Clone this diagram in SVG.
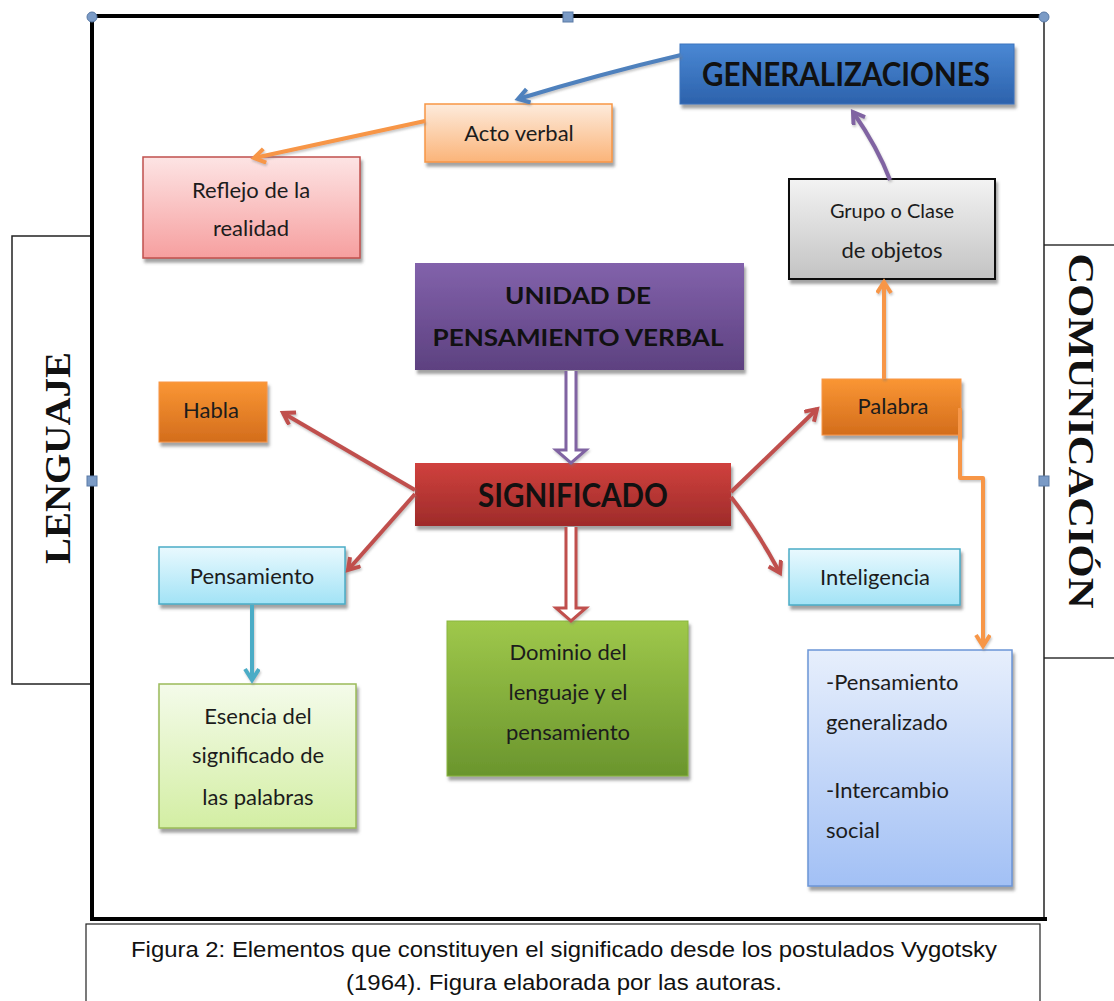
<svg xmlns="http://www.w3.org/2000/svg" width="1114" height="1001" viewBox="0 0 1114 1001">
<style>
.lbl{font-family:Lato,"Liberation Sans",sans-serif;font-size:22px;fill:#1c1c1c;text-anchor:middle}
.bold{font-weight:bold}
.side{font-family:"Liberation Serif",serif;font-weight:bold;font-size:36px;fill:#111;text-anchor:middle}
.cap{font-family:"Liberation Sans",Arial,sans-serif;font-size:22px;fill:#111;text-anchor:middle}
.conn{fill:none;stroke-width:4;stroke-linejoin:round}
.handle{fill:#7b9bc6;stroke:#5a7aa6;stroke-width:1}
</style>
<defs>
<filter id="sh" x="-10%" y="-10%" width="130%" height="140%">
<feDropShadow dx="2" dy="4" stdDeviation="1.5" flood-color="#555" flood-opacity="0.55"/>
</filter>
<filter id="lsh" x="-10%" y="-10%" width="130%" height="130%">
<feDropShadow dx="1" dy="2" stdDeviation="1" flood-color="#777" flood-opacity="0.4"/>
</filter>
<linearGradient id="gBlue" x1="0" y1="0" x2="0" y2="1"><stop offset="0" stop-color="#4a88d4"/><stop offset="1" stop-color="#2c62ac"/></linearGradient>
<linearGradient id="gPurple" x1="0" y1="0" x2="0" y2="1"><stop offset="0" stop-color="#8262ab"/><stop offset="1" stop-color="#5d4180"/></linearGradient>
<linearGradient id="gRed" x1="0" y1="0" x2="0" y2="1"><stop offset="0" stop-color="#d0413d"/><stop offset="1" stop-color="#9e2b2a"/></linearGradient>
<linearGradient id="gOrange" x1="0" y1="0" x2="0" y2="1"><stop offset="0" stop-color="#fa9634"/><stop offset="1" stop-color="#d36d1c"/></linearGradient>
<linearGradient id="gGreen" x1="0" y1="0" x2="0" y2="1"><stop offset="0" stop-color="#9fc84b"/><stop offset="1" stop-color="#6a952d"/></linearGradient>
<linearGradient id="gPeach" x1="0" y1="0" x2="0" y2="1"><stop offset="0" stop-color="#fdebdc"/><stop offset="1" stop-color="#fbb479"/></linearGradient>
<linearGradient id="gPink" x1="0" y1="0" x2="0" y2="1"><stop offset="0" stop-color="#fde4e4"/><stop offset="1" stop-color="#f69f9f"/></linearGradient>
<linearGradient id="gGray" x1="0" y1="0" x2="0" y2="1"><stop offset="0" stop-color="#f3f3f3"/><stop offset="1" stop-color="#c3c3c3"/></linearGradient>
<linearGradient id="gCyan" x1="0" y1="0" x2="0" y2="1"><stop offset="0" stop-color="#e9f9fe"/><stop offset="1" stop-color="#a2e3f6"/></linearGradient>
<linearGradient id="gLime" x1="0" y1="0" x2="0" y2="1"><stop offset="0" stop-color="#f4fbea"/><stop offset="1" stop-color="#d3eea3"/></linearGradient>
<linearGradient id="gSky" x1="0" y1="0" x2="0" y2="1"><stop offset="0" stop-color="#e7effc"/><stop offset="1" stop-color="#a2c0f5"/></linearGradient>
<marker id="aBlue" markerUnits="userSpaceOnUse" markerWidth="20" markerHeight="20" refX="13" refY="8" orient="auto"><path d="M2,1 L13,8 L2,15" fill="none" stroke="#4f81bd" stroke-width="4"/></marker>
<marker id="aOrange" markerUnits="userSpaceOnUse" markerWidth="20" markerHeight="20" refX="13" refY="8" orient="auto"><path d="M2,1 L13,8 L2,15" fill="none" stroke="#f79646" stroke-width="4"/></marker>
<marker id="aPurple" markerUnits="userSpaceOnUse" markerWidth="20" markerHeight="20" refX="13" refY="8" orient="auto"><path d="M2,1 L13,8 L2,15" fill="none" stroke="#8064a2" stroke-width="4"/></marker>
<marker id="aRed" markerUnits="userSpaceOnUse" markerWidth="20" markerHeight="20" refX="13" refY="8" orient="auto"><path d="M2,1 L13,8 L2,15" fill="none" stroke="#c0504d" stroke-width="4"/></marker>
<marker id="aCyan" markerUnits="userSpaceOnUse" markerWidth="20" markerHeight="20" refX="13" refY="8" orient="auto"><path d="M2,1 L13,8 L2,15" fill="none" stroke="#4bacc6" stroke-width="4"/></marker>
</defs>

<rect width="1114" height="1001" fill="#fff"/>

<g id="frame">
<rect x="12" y="236" width="80" height="448" fill="#fff" stroke="#222" stroke-width="1.5"/>
<line x1="1044" y1="245" x2="1114" y2="245" stroke="#333" stroke-width="1.5"/>
<line x1="1044" y1="658" x2="1114" y2="658" stroke="#333" stroke-width="1.5"/>
<line x1="1044" y1="16" x2="1044" y2="921" stroke="#222" stroke-width="1.5"/>
<line x1="92" y1="16" x2="1044" y2="16" stroke="#000" stroke-width="4"/>
<line x1="92" y1="16" x2="92" y2="920" stroke="#000" stroke-width="4"/>
<line x1="90" y1="919" x2="1047" y2="919" stroke="#000" stroke-width="4"/>
<circle class="handle" cx="92" cy="17" r="5"/>
<circle class="handle" cx="1044" cy="17" r="5"/>
<rect class="handle" x="563" y="12" width="10" height="10"/>
<rect class="handle" x="87" y="476" width="10" height="10"/>
<rect class="handle" x="1039" y="476" width="10" height="10"/>
</g>

<g id="lenguaje">
<text class="side" transform="translate(70,458) rotate(-90)" textLength="212" lengthAdjust="spacingAndGlyphs">LENGUAJE</text>
</g>
<g id="comunicacion">
<text class="side" transform="translate(1069,431) rotate(90)" textLength="355" lengthAdjust="spacingAndGlyphs">COMUNICACIÓN</text>
</g>

<g id="generalizaciones">
<rect x="680" y="44" width="334" height="60" fill="url(#gBlue)" stroke="#3d74bd" stroke-width="1" filter="url(#sh)"/>
<text class="lbl bold" x="846" y="86" style="font-size:33px;fill:#111" textLength="288" lengthAdjust="spacingAndGlyphs">GENERALIZACIONES</text>
</g>

<g id="acto-verbal">
<rect x="425" y="104" width="187" height="58" fill="url(#gPeach)" stroke="#f79646" stroke-width="1.5" filter="url(#sh)"/>
<text class="lbl" x="519" y="141">Acto verbal</text>
</g>

<g id="reflejo">
<rect x="143" y="157" width="217" height="101" fill="url(#gPink)" stroke="#c0504d" stroke-width="1.5" filter="url(#sh)"/>
<text class="lbl" x="251" y="198">Reflejo de la</text>
<text class="lbl" x="251" y="236">realidad</text>
</g>

<g id="grupo">
<rect x="789" y="179" width="206" height="100" fill="url(#gGray)" stroke="#111" stroke-width="2" filter="url(#sh)"/>
<text class="lbl" x="892" y="218" style="font-size:20px">Grupo o Clase</text>
<text class="lbl" x="892" y="258">de objetos</text>
</g>

<g id="unidad">
<rect x="415" y="263" width="329" height="107" fill="url(#gPurple)" filter="url(#sh)"/>
<text class="lbl bold" x="578" y="304" style="font-size:23px;fill:#111" textLength="146" lengthAdjust="spacingAndGlyphs">UNIDAD DE</text>
<text class="lbl bold" x="578" y="346" style="font-size:23px;fill:#111" textLength="291" lengthAdjust="spacingAndGlyphs">PENSAMIENTO VERBAL</text>
</g>

<g id="habla">
<rect x="159" y="382" width="108" height="60" fill="url(#gOrange)" stroke="#f79646" stroke-width="1" filter="url(#sh)"/>
<text class="lbl" x="211" y="418">Habla</text>
</g>

<g id="palabra">
<rect x="822" y="379" width="139" height="56" fill="url(#gOrange)" stroke="#f79646" stroke-width="1" filter="url(#sh)"/>
<text class="lbl" x="893" y="414">Palabra</text>
</g>

<g id="significado">
<rect x="415" y="463" width="316" height="63" fill="url(#gRed)" filter="url(#sh)"/>
<text class="lbl bold" x="573" y="507" style="font-size:33px;fill:#111" textLength="190" lengthAdjust="spacingAndGlyphs">SIGNIFICADO</text>
</g>

<g id="pensamiento">
<rect x="159" y="547" width="186" height="57" fill="url(#gCyan)" stroke="#4bacc6" stroke-width="1.5" filter="url(#sh)"/>
<text class="lbl" x="252" y="584">Pensamiento</text>
</g>

<g id="inteligencia">
<rect x="789" y="549" width="171" height="56" fill="url(#gCyan)" stroke="#4bacc6" stroke-width="1.5" filter="url(#sh)"/>
<text class="lbl" x="875" y="585">Inteligencia</text>
</g>

<g id="dominio">
<rect x="447" y="621" width="241" height="155" fill="url(#gGreen)" stroke="#8ab53f" stroke-width="1" filter="url(#sh)"/>
<text class="lbl" x="568" y="660">Dominio del</text>
<text class="lbl" x="568" y="700">lenguaje y el</text>
<text class="lbl" x="568" y="740">pensamiento</text>
</g>

<g id="esencia">
<rect x="159" y="684" width="197" height="144" fill="url(#gLime)" stroke="#9bbb59" stroke-width="1.5" filter="url(#sh)"/>
<text class="lbl" x="258" y="724">Esencia del</text>
<text class="lbl" x="258" y="763">significado de</text>
<text class="lbl" x="258" y="805">las palabras</text>
</g>

<g id="pensamiento-generalizado">
<rect x="808" y="650" width="204" height="236" fill="url(#gSky)" stroke="#6b95d6" stroke-width="1.5" filter="url(#sh)"/>
<text class="lbl" x="826" y="690" style="text-anchor:start">-Pensamiento</text>
<text class="lbl" x="826" y="730" style="text-anchor:start">generalizado</text>
<text class="lbl" x="826" y="798" style="text-anchor:start">-Intercambio</text>
<text class="lbl" x="826" y="838" style="text-anchor:start">social</text>
</g>

<g id="connectors">
<g filter="url(#lsh)">
<path class="conn" d="M681,55 Q600,74 518,99" stroke="#4f81bd" marker-end="url(#aBlue)"/>
<path class="conn" d="M425,121 L254,158" stroke="#f79646" marker-end="url(#aOrange)"/>
<path class="conn" d="M890,180 Q878,148 853,112" stroke="#8064a2" marker-end="url(#aPurple)"/>
<path class="conn" d="M884,379 V282" stroke="#f79646" marker-end="url(#aOrange)"/>
<path class="conn" d="M960,408 V478 H983 V646" stroke="#f79646" marker-end="url(#aOrange)"/>
<path class="conn" d="M415,490 L283,413" stroke="#c0504d" marker-end="url(#aRed)"/>
<path class="conn" d="M415,494 L348,570" stroke="#c0504d" marker-end="url(#aRed)"/>
<path class="conn" d="M731,492 L817,409" stroke="#c0504d" marker-end="url(#aRed)"/>
<path class="conn" d="M731,497 Q757,530 780,573" stroke="#c0504d" marker-end="url(#aRed)"/>
<path class="conn" d="M252,605 V680" stroke="#4bacc6" marker-end="url(#aCyan)"/>
<path d="M566,371 V450 H556 L571,463 L586,450 H576 V371" fill="#fff" stroke="#8064a2" stroke-width="3" stroke-linejoin="miter"/>
<path d="M566,527 V608 H556 L571,621 L586,608 H576 V527" fill="#fff" stroke="#c0504d" stroke-width="3" stroke-linejoin="miter"/>
</g>
</g>

<g id="caption">
<rect x="86" y="924" width="954" height="90" fill="#fff" stroke="#222" stroke-width="1.2"/>
<text class="cap" x="564" y="957" textLength="866" lengthAdjust="spacingAndGlyphs">Figura 2: Elementos que constituyen el significado desde los postulados Vygotsky</text>
<text class="cap" x="564" y="990" textLength="436" lengthAdjust="spacingAndGlyphs">(1964). Figura elaborada por las autoras.</text>
</g>
</svg>
